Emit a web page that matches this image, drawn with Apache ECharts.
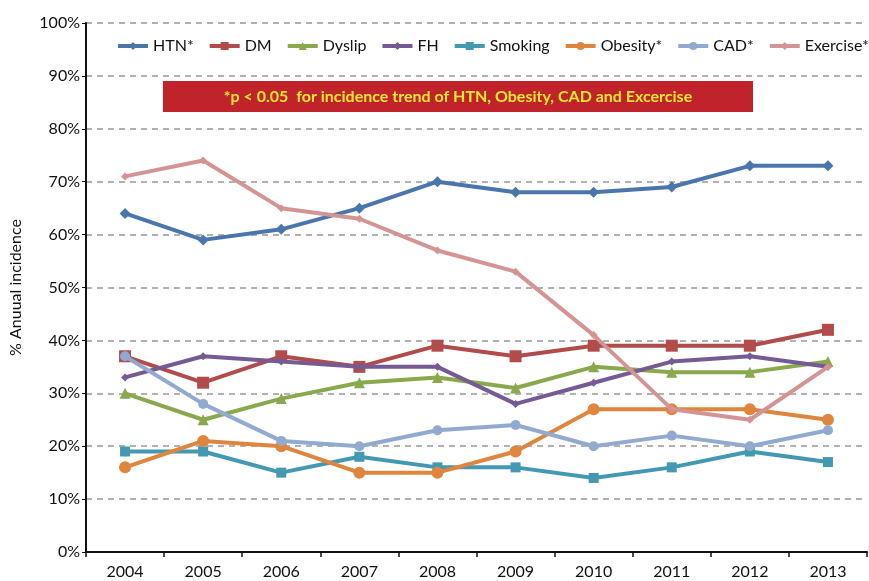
<!DOCTYPE html>
<html>
<head>
<meta charset="utf-8">
<script src="https://cdn.jsdelivr.net/npm/echarts@6/dist/echarts.min.js"></script>
<style>
  html, body { margin: 0; padding: 0; background: #fff; }
  #chart { width: 869px; height: 581px; }
</style>
</head>
<body>
<div id="chart"></div>
<script>
var years = ['2004', '2005', '2006', '2007', '2008', '2009', '2010', '2011', '2012', '2013'];
var yTicks = [0, 10, 20, 30, 40, 50, 60, 70, 80, 90, 100];

var htn = [64, 59, 61, 65, 70, 68, 68, 69, 73, 73];
var dm = [37, 32, 37, 35, 39, 37, 39, 39, 39, 42];
var dyslip = [30, 25, 29, 32, 33, 31, 35, 34, 34, 36];
var fh = [33, 37, 36, 35, 35, 28, 32, 36, 37, 35];
var smoking = [19, 19, 15, 18, 16, 16, 14, 16, 19, 17];
var obesity = [16, 21, 20, 15, 15, 19, 27, 27, 27, 25];
var cad = [37, 28, 21, 20, 23, 24, 20, 22, 20, 23];
var exercise = [71, 74, 65, 63, 57, 53, 41, 27, 25, 35];

var seriesNames = ['HTN*', 'DM', 'Dyslip', 'FH', 'Smoking', 'Obesity*', 'CAD*', 'Exercise*'];
var seriesData = [htn, dm, dyslip, fh, smoking, obesity, cad, exercise];
var colors = ['#4a76ad', '#b24c4a', '#8aa84e', '#765a93', '#4499b2', '#e0853e', '#92a9d0', '#d49494'];
var symbols = ['diamond', 'rect', 'triangle', 'diamond', 'rect', 'circle', 'circle', 'diamond'];
var symbolSizes = [11, 12, 11, 8, 10, 12, 10, 8];

var note = '*p < 0.05  for incidence trend of HTN, Obesity, CAD and Excercise';
var font = 'Lato, "Open Sans", sans-serif';

var chart = echarts.init(document.getElementById('chart'));

var series = seriesNames.map(function (name, i) {
    return {
        name: name,
        type: 'line',
        data: seriesData[i],
        symbol: symbols[i],
        symbolSize: symbolSizes[i],
        showAllSymbol: true,
        z: 3 + i,
        itemStyle: { color: colors[i] },
        lineStyle: { width: 4, color: colors[i] }
    };
});

var option = {
    backgroundColor: '#fff',
    animation: false,
    textStyle: { fontFamily: font },
    grid: {
        left: 84,
        right: 2,
        top: 23,
        bottom: 29
    },
    legend: {
        top: 38,
        left: 116,
        right: 0,
        padding: 0,
        itemWidth: 30,
        itemHeight: 10,
        itemGap: 14,
        lineStyle: { width: 4 },
        textStyle: { fontSize: 16, color: '#111', fontFamily: font },
        data: seriesNames
    },
    xAxis: {
        type: 'category',
        data: years,
        boundaryGap: true,
        axisLine: { lineStyle: { color: '#111', width: 2 } },
        axisTick: { show: true, length: 5, lineStyle: { color: '#111', width: 1.5 } },
        axisLabel: { color: '#111', fontSize: 16, margin: 12 },
        splitLine: { show: false }
    },
    yAxis: {
        type: 'value',
        min: yTicks[0],
        max: yTicks[yTicks.length - 1],
        interval: 10,
        name: '% Anuual incidence',
        nameLocation: 'middle',
        nameGap: 62,
        nameTextStyle: { fontSize: 16, color: '#111' },
        axisLine: { show: true, lineStyle: { color: '#111', width: 2 } },
        axisTick: { show: true, length: 4, lineStyle: { color: '#111' } },
        axisLabel: {
            color: '#111',
            fontSize: 16,
            margin: 6,
            formatter: '{value}%'
        },
        splitLine: {
            show: true,
            lineStyle: { color: '#999', width: 1.5, type: [6, 5] }
        }
    },
    graphic: [{
        type: 'group',
        left: 163,
        top: 81,
        z: 100,
        children: [{
            type: 'rect',
            shape: { x: 0, y: 0, width: 590, height: 31 },
            style: { fill: '#c1232b' }
        }, {
            type: 'text',
            x: 295,
            y: 15.5,
            style: {
                text: note,
                fill: '#f7e830',
                font: 'bold 16px ' + font,
                align: 'center',
                verticalAlign: 'middle'
            }
        }]
    }],
    series: series
};

chart.setOption(option);
window.addEventListener('resize', function () {
    chart.resize();
});
</script>
</body>
</html>
